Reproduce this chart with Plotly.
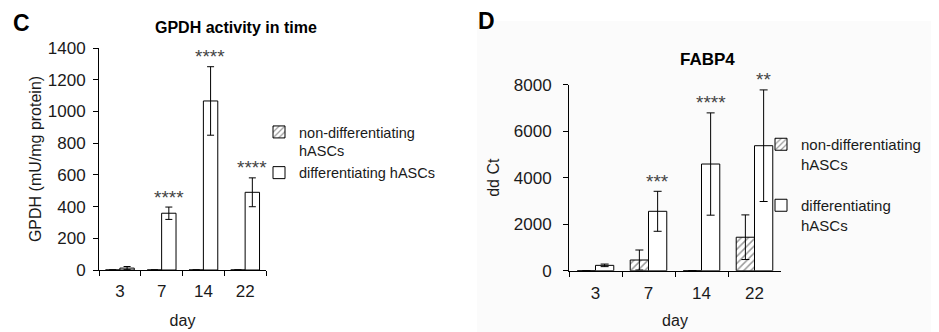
import plotly.graph_objects as go

days = ["3", "7", "14", "22"]

# Panel C: GPDH activity (mU/mg protein)
gpdh_non = [0, 0, 0, 0]
gpdh_non_err = [0, 0, 0, 0]
gpdh_diff = [12, 358, 1066, 490]
gpdh_diff_err = [10, 39, 216, 91]
gpdh_stars = ["", "****", "****", "****"]

# Panel D: FABP4 dd Ct
fabp_non = [0, 460, 0, 1440]
fabp_non_err = [0, 430, 0, 960]
fabp_diff = [230, 2555, 4588, 5376]
fabp_diff_err = [55, 860, 2200, 2400]
fabp_stars = ["", "***", "****", "**"]

FONT = "Liberation Sans, Arial, sans-serif"
TXT = "#1a1a1a"
PAGE_W, PAGE_H = 939, 332
BODY = 8                      # default page margin around the figure div
W, H = PAGE_W - BODY, PAGE_H - BODY


def px(x):
    """page x pixel -> paper fraction"""
    return (x - BODY) / W


def py(y):
    """page y pixel (from top) -> paper fraction"""
    return (H - (y - BODY)) / H


fig = go.Figure()


def add_pair(non, non_err, diff, diff_err, xa, ya, legend, ew):
    fig.add_trace(go.Bar(
        x=days, y=non, name="non-differentiating<br>hASCs",
        xaxis=xa, yaxis=ya, legend=legend, legendgroup=legend + "a",
        marker=dict(color="white", line=dict(color="black", width=1),
                    pattern=dict(shape="/", fgcolor="#333333", bgcolor="white",
                                 size=5, solidity=0.3)),
        error_y=dict(type="data", array=non_err, color="black", thickness=1, width=ew),
    ))
    fig.add_trace(go.Bar(
        x=days, y=diff,
        name=("differentiating hASCs" if legend == "legend" else "differentiating<br>hASCs"),
        xaxis=xa, yaxis=ya, legend=legend, legendgroup=legend + "b",
        marker=dict(color="white", line=dict(color="black", width=1)),
        error_y=dict(type="data", array=diff_err, color="black", thickness=1, width=ew),
    ))


add_pair(gpdh_non, gpdh_non_err, gpdh_diff, gpdh_diff_err, "x", "y", "legend", 3.5)
add_pair(fabp_non, fabp_non_err, fabp_diff, fabp_diff_err, "x2", "y2", "legend2", 4)

# significance stars above the differentiating bars
for xa, ya, vals, errs, stars, shift in [
    ("x", "y", gpdh_diff, gpdh_diff_err, gpdh_stars, 7),
    ("x2", "y2", fabp_diff, fabp_diff_err, fabp_stars, 9),
]:
    for i, (v, e, s) in enumerate(zip(vals, errs, stars)):
        if s:
            fig.add_annotation(x=i, y=v + e, xref=xa, yref=ya, text=s, showarrow=False,
                               xshift=shift, yshift=10, xanchor="center", yanchor="middle",
                               font=dict(family=FONT, size=19, color="#444444"))

axis_common = dict(showline=True, linecolor="black", linewidth=1, ticks="outside",
                   ticklen=5, tickcolor="black", showgrid=False, zeroline=False,
                   automargin=False,
                   tickfont=dict(family=FONT, size=17, color=TXT),
                   title_font=dict(family=FONT, size=16, color=TXT))

fig.update_layout(
    width=W, height=H, margin=dict(l=0, r=0, t=0, b=0, pad=0, autoexpand=False),
    paper_bgcolor="white", plot_bgcolor="rgba(0,0,0,0)",
    barmode="group", bargap=0.31, bargroupgap=0,
    showlegend=True,
    xaxis=dict(domain=[px(99), px(266)], anchor="y", type="category",
               tickson="boundaries", range=[-0.5, 3.5], ticklabelstandoff=6,
               title=dict(text="day", standoff=14), **axis_common),
    yaxis=dict(domain=[py(270), py(48)], anchor="x", range=[0, 1400],
               dtick=200, ticklabelstandoff=4,
               title=dict(text="GPDH (mU/mg protein)", standoff=2), **axis_common),
    xaxis2=dict(domain=[px(569), px(781)], anchor="y2", type="category",
                tickson="boundaries", range=[-0.5, 3.5], ticklabelstandoff=7,
                title=dict(text="day", standoff=12), **axis_common),
    yaxis2=dict(domain=[py(270.7), py(84.7)], anchor="x2", range=[0, 8000],
                dtick=2000, ticklabelstandoff=8,
                title=dict(text="dd Ct", standoff=10), **axis_common),
    legend=dict(x=px(259), y=py(116), xanchor="left", yanchor="top",
                bgcolor="rgba(0,0,0,0)", font=dict(family=FONT, size=14.5, color=TXT),
                itemwidth=30, valign="top", traceorder="normal"),
    legend2=dict(x=px(761), y=py(128), xanchor="left", yanchor="top",
                 bgcolor="rgba(0,0,0,0)", font=dict(family=FONT, size=15, color=TXT),
                 itemwidth=30, valign="top", tracegroupgap=19, traceorder="grouped"),
    shapes=[dict(type="rect", xref="paper", yref="paper", x0=px(477), x1=1,
                 y0=0, y1=py(21), fillcolor="#fbfbfb", line=dict(width=0),
                 layer="below")],
)

# panel titles and letters
for txt, x, y, size in [
    ("<b>GPDH activity in time</b>", 236, 27, 16),
    ("<b>FABP4</b>", 707, 59, 17),
    ("<b>C</b>", 21, 23, 23),
    ("<b>D</b>", 486, 21, 23),
]:
    fig.add_annotation(x=px(x), y=py(y), xref="paper", yref="paper",
                       text=txt, showarrow=False, xanchor="center", yanchor="middle",
                       font=dict(family=FONT, size=size, color="black"))

fig.write_html("out.html")
